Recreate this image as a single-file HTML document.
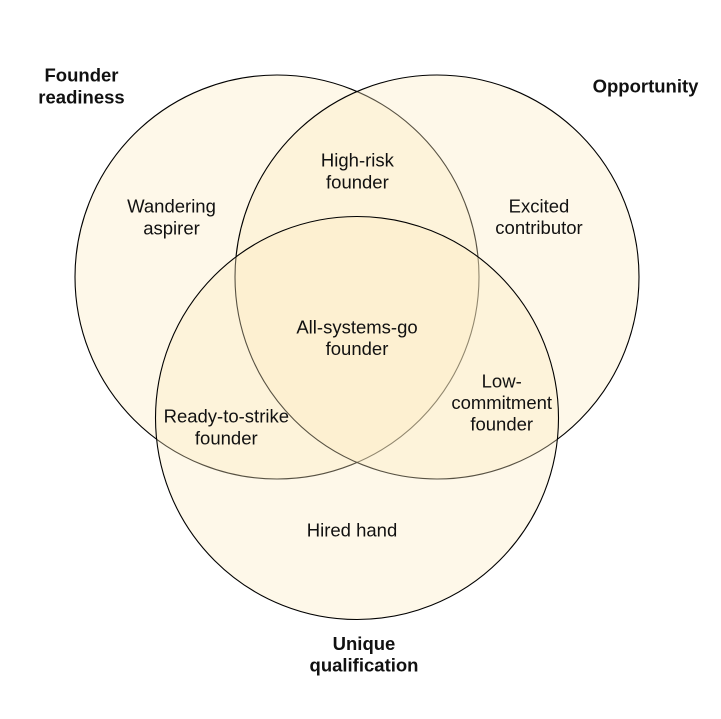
<!DOCTYPE html>
<html>
<head>
<meta charset="utf-8">
<style>
  html, body { margin: 0; padding: 0; background: #ffffff; }
  svg { display: block; }
  text { font-family: "Liberation Sans", Arial, sans-serif; font-size: 18.5px; fill: #111; }
  .b { font-weight: bold; }
</style>
</head>
<body>
<svg width="721" height="719" viewBox="0 0 721 719" xmlns="http://www.w3.org/2000/svg">
  <rect width="721" height="719" fill="#ffffff"/>
  <circle cx="277" cy="277" r="202" fill="rgb(251,235,192)" fill-opacity="0.35" stroke="#000" stroke-width="1.1"/>
  <circle cx="437" cy="277" r="202" fill="rgb(251,235,192)" fill-opacity="0.35" stroke="#000" stroke-width="1.1"/>
  <circle cx="357" cy="418" r="201.5" fill="rgb(251,235,192)" fill-opacity="0.35" stroke="#000" stroke-width="1.1"/>

  <g text-anchor="middle">
    <text class="b" x="81.5" y="81.7">Founder</text>
    <text class="b" x="81.5" y="103.3">readiness</text>

    <text class="b" x="645.5" y="92.3">Opportunity</text>

    <text x="171.5" y="212.7">Wandering</text>
    <text x="171.5" y="234.3">aspirer</text>

    <text x="357.4" y="166.7">High-risk</text>
    <text x="357.4" y="188.3">founder</text>

    <text x="539" y="212.5">Excited</text>
    <text x="539" y="234.1">contributor</text>

    <text x="357" y="333.3">All-systems-go</text>
    <text x="357" y="355">founder</text>

    <text x="226.3" y="422.7">Ready-to-strike</text>
    <text x="226.3" y="444.3">founder</text>

    <text x="501.7" y="387.3">Low-</text>
    <text x="501.7" y="409">commitment</text>
    <text x="501.7" y="430.7">founder</text>

    <text x="352" y="536.7">Hired hand</text>

    <text class="b" x="364" y="650">Unique</text>
    <text class="b" x="364" y="671.7">qualification</text>
  </g>
</svg>
</body>
</html>
